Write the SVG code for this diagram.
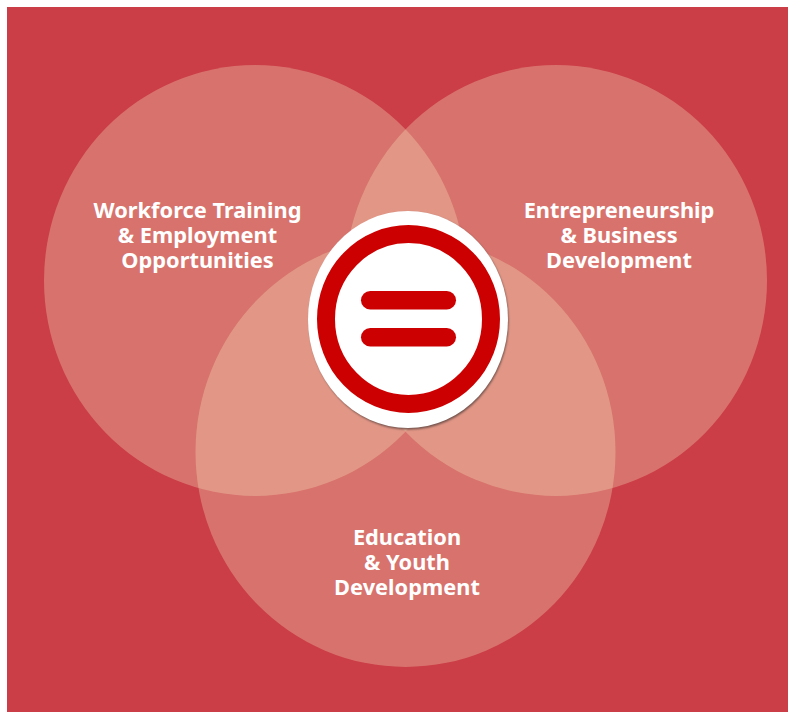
<svg xmlns="http://www.w3.org/2000/svg" width="788" height="712" viewBox="0 0 788 712">
<defs><filter id="soft" x="-5%" y="-5%" width="110%" height="110%"><feGaussianBlur stdDeviation="0.8"/></filter></defs>
<style>
.c{fill:#faf0c3;fill-opacity:.3}
.t{font-family:"Noto Sans","Open Sans",sans-serif;font-weight:700;font-size:21.8px;fill:#fff;text-anchor:middle}
.r{fill:#cc0000}
</style>
<rect width="788" height="712" fill="#fff"/>
<rect x="7" y="7" width="781" height="705" fill="#cb3d47"/>
<g id="circle-workforce"><ellipse class="c" cx="255" cy="280.500" rx="211" ry="215.500"/><text class="t" x="197.500" y="218">Workforce Training</text><text class="t" x="197.500" y="243">&amp; Employment</text><text class="t" x="197.500" y="268">Opportunities</text></g>
<g id="circle-entrepreneurship"><ellipse class="c" cx="556" cy="280.500" rx="211" ry="215.500"/><text class="t" x="619" y="218">Entrepreneurship</text><text class="t" x="619" y="243">&amp; Business</text><text class="t" x="619" y="268">Development</text></g>
<g id="circle-education"><ellipse class="c" cx="405.500" cy="452" rx="210" ry="215"/><text class="t" x="407" y="545">Education</text><text class="t" x="407" y="570">&amp; Youth</text><text class="t" x="407" y="595">Development</text></g>
<g id="equal-logo">
<ellipse cx="409" cy="321" rx="99.500" ry="108.500" fill="#6e4f4a" filter="url(#soft)"/>
<ellipse cx="408" cy="319.500" rx="100" ry="108.500" fill="#fff"/>
<ellipse cx="408.500" cy="319" rx="82.500" ry="85" fill="#fff" stroke="#cc0000" stroke-width="18"/>
<rect class="r" x="361" y="291" width="95" height="18.500" rx="9.250"/>
<rect class="r" x="361" y="328" width="95" height="18.500" rx="9.250"/>
</g>
</svg>
